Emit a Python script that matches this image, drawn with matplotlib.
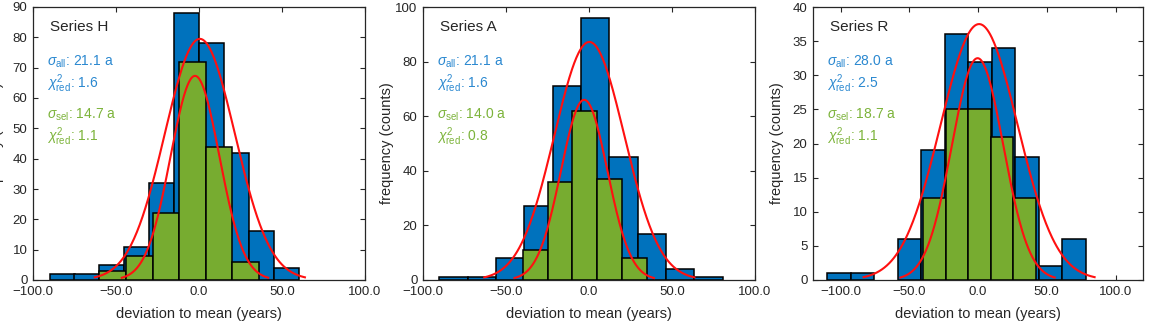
import numpy as np
import matplotlib
matplotlib.use("Agg")
import matplotlib.pyplot as plt
from matplotlib.ticker import FuncFormatter, MultipleLocator

plt.rcParams['font.family'] = ['Liberation Sans', 'DejaVu Sans']
plt.rcParams['mathtext.fontset'] = 'custom'
plt.rcParams['mathtext.rm'] = 'Liberation Sans'
plt.rcParams['mathtext.it'] = 'Liberation Sans:italic'
plt.rcParams['mathtext.bf'] = 'Liberation Sans:bold'

# ---------------- data ----------------
series_names = ["Series H", "Series A", "Series R"]

H_blue_edges = [-90, -75, -60, -45, -30, -15, 0, 15, 30, 45, 60]
H_blue_counts = [2, 2, 5, 11, 32, 88, 78, 42, 16, 4]
H_green_edges = [-60, -44, -28, -12, 4, 20, 36]
H_green_counts = [3, 8, 22, 72, 44, 6]

A_blue_edges = [-90.2, -73.1, -56.1, -39.0, -21.9, -4.9, 12.2, 29.3, 46.4, 63.4, 80.5]
A_blue_counts = [1, 1, 8, 27, 71, 96, 45, 17, 4, 1]
A_green_edges = [-40, -25, -10, 5, 20, 35]
A_green_counts = [11, 36, 62, 37, 8]

R_blue_edges = [-109.7, -92.6, -75.5, -58.4, -41.3, -24.2, -7.1, 10.0, 27.1, 44.2, 61.3, 78.4]
R_blue_counts = [1, 1, 0, 6, 19, 36, 32, 34, 18, 2, 6]
R_green_edges = [-39.8, -23.4, -7.0, 9.4, 25.8, 42.2]
R_green_counts = [12, 25, 25, 21, 12]

# Gaussian fit parameters (mean, sigma, peak height)
H_fit_all = (0.5, 21.1, 79.5)
H_fit_sel = (-2.4, 14.7, 67.3)
A_fit_all = (0.2, 21.1, 87.2)
A_fit_sel = (-2.9, 14.0, 66.0)
R_fit_all = (0.8, 28.0, 37.5)
R_fit_sel = (-0.3, 18.7, 32.5)

sigma_all_labels = ["21.1", "21.1", "28.0"]
chi_all_labels = ["1.6", "1.6", "2.5"]
sigma_sel_labels = ["14.7", "14.0", "18.7"]
chi_sel_labels = ["1.1", "0.8", "1.1"]

xlims = [(-100, 100), (-100, 100), (-120, 120)]
ylims = [(0, 90), (0, 100), (0, 40)]
ysteps = [10, 20, 5]
xticks = [-100, -50, 0, 50, 100]

# ---------------- styling ----------------
BLUE = '#0072BD'
GREEN = '#77AC30'
RED = '#FF1010'
TXT_BLUE = '#2A88D0'
TXT_GREEN = '#7CB33A'
DARK = '#262626'

W, H = 1150, 321
fig = plt.figure(figsize=(W / 100, H / 100), dpi=100)

ax_px = [(33, 332), (423, 332), (813, 330)]
top_px, bot_px = 7, 280

panels = [
    (H_blue_edges, H_blue_counts, H_green_edges, H_green_counts, H_fit_all, H_fit_sel),
    (A_blue_edges, A_blue_counts, A_green_edges, A_green_counts, A_fit_all, A_fit_sel),
    (R_blue_edges, R_blue_counts, R_green_edges, R_green_counts, R_fit_all, R_fit_sel),
]

fmt = FuncFormatter(lambda v, p: f"{v:.1f}".replace('-', '\u2212'))

for i, (be, bc, ge, gc, fa, fs) in enumerate(panels):
    left, width = ax_px[i]
    ax = fig.add_axes([left / W, (H - bot_px) / H, width / W, (bot_px - top_px) / H])

    be = np.array(be); bc = np.array(bc)
    ge = np.array(ge); gc = np.array(gc)
    m = bc > 0
    ax.bar(be[:-1][m], bc[m], width=np.diff(be)[m], align='edge',
           color=BLUE, edgecolor='black', linewidth=1.1, zorder=2)
    ax.bar(ge[:-1], gc, width=np.diff(ge), align='edge',
           color=GREEN, edgecolor='black', linewidth=1.1, zorder=3)

    for (mu, sd, pk) in (fa, fs):
        x = np.linspace(mu - 3 * sd, mu + 3 * sd, 300)
        y = pk * np.exp(-0.5 * ((x - mu) / sd) ** 2)
        ax.plot(x, y, color=RED, linewidth=1.5, zorder=4)

    ax.set_xlim(*xlims[i])
    ax.set_ylim(*ylims[i])
    ax.set_xticks(xticks)
    ax.xaxis.set_major_formatter(fmt)
    ax.yaxis.set_major_locator(MultipleLocator(ysteps[i]))

    ax.tick_params(direction='in', top=True, right=True, length=3.5, width=0.8,
                   labelsize=9.5, colors=DARK, pad=4)
    for s in ax.spines.values():
        s.set_color(DARK)
        s.set_linewidth(0.9)

    ax.set_xlabel("deviation to mean (years)", fontsize=10.5, color=DARK)
    ax.xaxis.set_label_coords(0.5, -(314 - bot_px) / (bot_px - top_px))
    ax.xaxis.label.set_va('center')
    ax.set_ylabel("frequency (counts)", fontsize=10.5, color=DARK)
    ax.yaxis.set_label_coords(-36 / width, 0.5)
    ax.yaxis.label.set_va('center')

    ax.text(0.051, 0.927, series_names[i], transform=ax.transAxes,
            fontsize=11, color=DARK, va='center', ha='left')
    ax.text(0.041, 0.800, r'$\sigma_{\rm all}$: ' + sigma_all_labels[i] + ' a',
            transform=ax.transAxes, fontsize=10, color=TXT_BLUE, va='center', ha='left')
    ax.text(0.041, 0.720, r'$\chi^2_{\rm red}$: ' + chi_all_labels[i],
            transform=ax.transAxes, fontsize=10, color=TXT_BLUE, va='center', ha='left')
    ax.text(0.041, 0.604, r'$\sigma_{\rm sel}$: ' + sigma_sel_labels[i] + ' a',
            transform=ax.transAxes, fontsize=10, color=TXT_GREEN, va='center', ha='left')
    ax.text(0.041, 0.524, r'$\chi^2_{\rm red}$: ' + chi_sel_labels[i],
            transform=ax.transAxes, fontsize=10, color=TXT_GREEN, va='center', ha='left')

fig.savefig("out.png", dpi=100)
